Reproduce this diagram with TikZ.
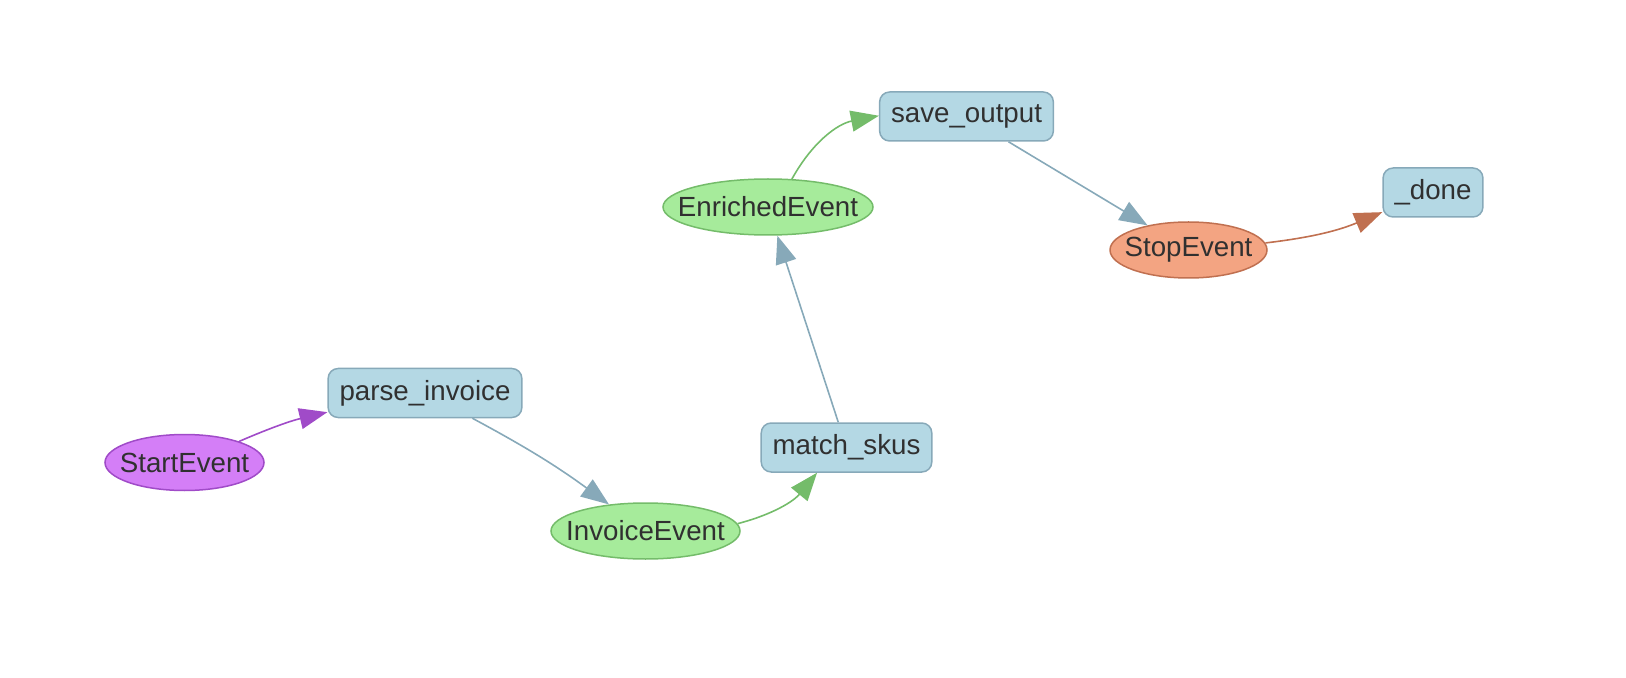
\documentclass[tikz,border=0pt]{standalone}
\usepackage{fontspec}
\setmainfont{Liberation Sans}
\usetikzlibrary{arrows.meta,shapes.geometric}
\definecolor{stepfill}{HTML}{B4D8E4}
\definecolor{stepline}{HTML}{87A9B9}
\definecolor{startfill}{HTML}{D47EF7}
\definecolor{startline}{HTML}{A04BC8}
\definecolor{evfill}{HTML}{A6EB9B}
\definecolor{evline}{HTML}{74BC6A}
\definecolor{stopfill}{HTML}{F3A482}
\definecolor{stopline}{HTML}{C07050}
\definecolor{txtgray}{HTML}{303030}
\newcommand{\evtext}[1]{\makebox[0pt]{#1}}
\tikzset{
  stepnode/.style={draw=stepline, fill=stepfill, rounded corners=5pt, line width=0.75pt,
    minimum height=24.5pt, inner xsep=5.7pt, inner ysep=0pt, text=txtgray,
    font=\fontsize{13.85}{16}\selectfont},
  evnode/.style={ellipse, line width=0.75pt, minimum height=28pt, inner sep=0pt,
    text=txtgray, font=\fontsize{13.85}{16}\selectfont},
  flow/.style={line width=0.8pt, -{Triangle[length=14pt,width=10.5pt]}}
}
\begin{document}
\begin{tikzpicture}[x=0.5pt,y=-0.5pt]
  \useasboundingbox (0,0) rectangle (1626,678);
  % events
  \node[evnode, draw=startline, fill=startfill, minimum width=79.5pt] (start) at (184.5,462.5) {\evtext{StartEvent}};
  \node[evnode, draw=evline, fill=evfill, minimum width=94.5pt] (invoice) at (645.5,531) {\evtext{InvoiceEvent}};
  \node[evnode, draw=evline, fill=evfill, minimum width=105pt] (enriched) at (768,207) {\evtext{EnrichedEvent}};
  \node[evnode, draw=stopline, fill=stopfill, minimum width=78.5pt] (stop) at (1188.5,250) {\evtext{StopEvent}};
  % steps
  \node[stepnode] (parse) at (425,393) {parse\_invoice};
  \node[stepnode] (match) at (846.5,447.5) {match\_skus};
  \node[stepnode] (save) at (966.5,116.5) {save\_output};
  \node[stepnode] (done) at (1433,192.5) {\_done};
  \draw[flow, startline] (start) to[bend left=5] (parse);
  \draw[flow, stepline] (parse) to[bend left=4] (invoice);
  \draw[flow, evline] (invoice) to[bend right=18] (match);
  \draw[flow, stepline] (match) -- (enriched);
  \draw[flow, evline] (enriched) to[bend left=25] (save);
  \draw[flow, stepline] (save) -- (stop);
  \draw[flow, stopline] (stop) to[bend right=8] (done);
\end{tikzpicture}
\end{document}
